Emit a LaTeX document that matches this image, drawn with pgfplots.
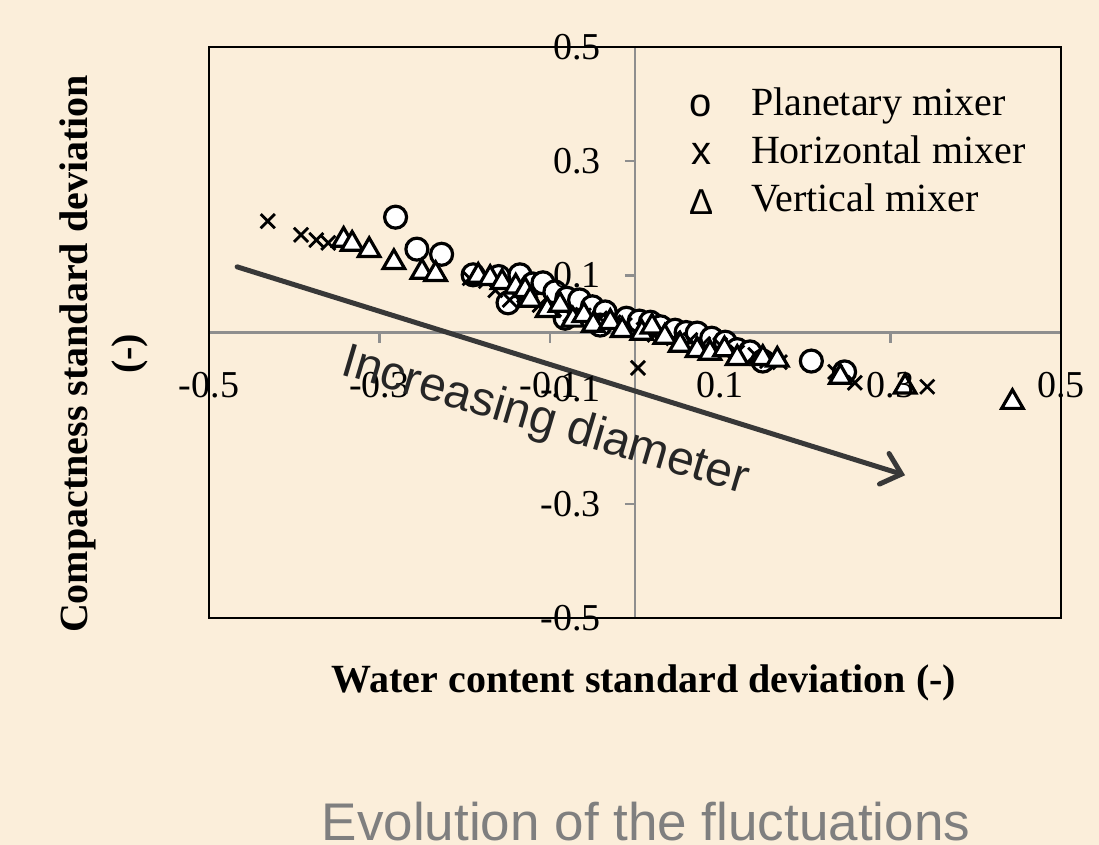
\documentclass[border=0pt]{standalone}
\usepackage{pgfplots}
\pgfplotsset{compat=1.18}
\usepackage{fontspec}
\setmainfont{Liberation Serif}
\setsansfont{Liberation Sans}
\usetikzlibrary{arrows.meta}
\definecolor{bg}{HTML}{FBEEDA}
\definecolor{axgray}{HTML}{8E8E8E}
\definecolor{arrowgray}{HTML}{383838}
\definecolor{textdark}{HTML}{262626}
\definecolor{titlegray}{HTML}{7F7F7F}

\pgfplotstableread{
x y
-0.281 0.202
-0.256 0.146
-0.227 0.137
-0.190 0.101
-0.160 0.098
-0.135 0.101
-0.120 0.085
-0.108 0.087
-0.149 0.052
-0.094 0.071
-0.080 0.060
-0.065 0.057
-0.050 0.045
-0.035 0.036
-0.082 0.025
-0.041 0.013
-0.010 0.025
0.005 0.020
0.018 0.018
0.030 0.010
0.047 0.004
0.060 0.000
0.073 -0.001
0.090 -0.010
0.106 -0.017
0.120 -0.030
0.135 -0.034
0.150 -0.050
0.207 -0.050
0.246 -0.069
}\planetary

\pgfplotstableread{
x y
-0.431 0.195
-0.392 0.171
-0.374 0.162
-0.360 0.157
-0.194 0.095
-0.175 0.090
-0.164 0.074
-0.147 0.057
-0.130 0.065
-0.112 0.048
-0.095 0.040
-0.076 0.031
-0.060 0.030
-0.041 0.025
-0.025 0.018
-0.012 0.013
0.010 0.005
0.023 -0.004
0.045 -0.010
0.065 -0.013
0.080 -0.020
0.100 -0.022
0.120 -0.035
0.141 -0.039
0.155 -0.050
0.170 -0.052
0.0035 -0.062
0.235 -0.069
0.258 -0.088
0.343 -0.095
}\horizontal

\pgfplotstableread{
x y
-0.342 0.162
-0.332 0.155
-0.312 0.144
-0.283 0.123
-0.250 0.106
-0.234 0.102
-0.184 0.099
-0.170 0.095
-0.156 0.088
-0.140 0.080
-0.129 0.074
-0.123 0.057
-0.103 0.039
-0.088 0.048
-0.073 0.022
-0.060 0.030
-0.049 0.013
-0.029 0.018
-0.015 0.004
0.008 -0.001
0.020 0.010
0.035 -0.008
0.053 -0.022
0.073 -0.031
0.088 -0.036
0.105 -0.030
0.120 -0.045
0.150 -0.045
0.167 -0.048
0.241 -0.078
0.317 -0.095
0.443 -0.122
}\vertical

\begin{document}
\begin{tikzpicture}
\fill[bg] (0,0) rectangle (549.5pt,-422.5pt);
\pgfplotsset{commonax/.style={at={(104.5pt,-23.5pt)}, anchor=north west,
  scale only axis, width=426pt, height=285.5pt,
  xmin=-0.5,xmax=0.5,ymin=-0.5,ymax=0.5}}
% gray middle axes with ticks
\begin{axis}[commonax, axis lines=middle,
  axis line style={axgray, line width=1.2pt, -},
  xtick={-0.5,-0.3,-0.1,0.1,0.3,0.5}, ytick={-0.5,-0.3,-0.1,0.1,0.3,0.5},
  xticklabels={}, yticklabels={},
  tick align=outside, major tick length=5pt,
  tick style={axgray, line width=1.2pt}]
\end{axis}
% data axis with box
\begin{axis}[commonax, axis line style={black, line width=1.4pt},
  xtick=\empty, ytick=\empty,
  legend style={draw=none, fill=none, at={(0.5634,0.9285)}, anchor=north west,
    inner sep=0pt, outer sep=0pt, row sep=6pt, column sep=0pt,
    font=\fontsize{20}{20}\selectfont,
    nodes={inner sep=0pt, text height=14pt, text depth=4pt}},
  legend cell align=left]
\addplot[only marks, mark=*, mark size=5.5pt,
  mark options={fill=white, draw=black, line width=1.6pt},
  legend image code/.code={\path[draw=none,fill=none] (-6pt,0pt) -- (25pt,0pt);
    \node[anchor=center, inner sep=0pt, text height=, text depth=, font=\sffamily\fontsize{20}{20}\selectfont] at (0pt,0pt) {o};}]
  table[x=x,y=y] {\planetary};
\addlegendentry{Planetary mixer}
\addplot[only marks, mark=x, mark size=5pt,
  mark options={draw=black, line width=1.4pt},
  legend image code/.code={\path[draw=none,fill=none] (-6pt,0pt) -- (25pt,0pt);
    \node[anchor=center, inner sep=0pt, text height=, text depth=, font=\sffamily\fontsize{20}{20}\selectfont] at (0pt,0pt) {x};}]
  table[x=x,y=y] {\horizontal};
\addlegendentry{Horizontal mixer}
\addplot[only marks, mark=triangle*, mark size=6.2pt,
  mark options={fill=white, draw=black, line width=1.6pt},
  legend image code/.code={\path[draw=none,fill=none] (-6pt,0pt) -- (25pt,0pt);
    \node[anchor=center, inner sep=0pt, text height=, text depth=, font=\sffamily\fontsize{18}{18}\selectfont] at (0pt,0pt) {Δ};}]
  table[x=x,y=y] {\vertical};
\addlegendentry{Vertical mixer}
\draw[arrowgray, line width=2.5pt, line cap=round,
  -{Straight Barb[length=9pt, width=16pt, line cap=round]}]
  (axis cs:-0.467,0.115) -- (axis cs:0.317,-0.250);
\end{axis}
% tick labels only
\begin{axis}[commonax, axis lines=middle, axis line style={draw=none},
  xtick={-0.5,-0.3,-0.1,0.1,0.3,0.5}, ytick={-0.5,-0.3,-0.1,0.1,0.3,0.5},
  xticklabels={-0.5,-0.3,-0.1,0.1,0.3,0.5},
  yticklabels={-0.5,-0.3,-0.1,0.1,0.3,0.5},
  major tick length=0pt, tick style={draw=none},
  ticklabel style={font=\fontsize{19}{19}\selectfont, inner sep=0pt},
  xticklabel style={anchor=north, yshift=-19.5pt},
  yticklabel style={anchor=east, xshift=-17pt}]
\end{axis}
\node[rotate=-16.5, text=textdark, font=\sffamily\fontsize{24}{24}\selectfont]
  at (272.5pt,-211pt) {Increasing diameter};
\node[font=\bfseries\fontsize{20}{20}\selectfont] at (322pt,-341.5pt)
  {Water content standard deviation (-)};
\node[rotate=90, align=center, font=\bfseries\fontsize{20}{26}\selectfont]
  at (52pt,-177pt) {Compactness standard deviation\\(-)};
\node[text=titlegray, font=\sffamily\fontsize{26.5}{26.5}\selectfont]
  at (323pt,-411pt) {Evolution of the fluctuations};
\pgfresetboundingbox
\path (0,0) rectangle (549.5pt,-422.5pt);
\end{tikzpicture}
\end{document}
